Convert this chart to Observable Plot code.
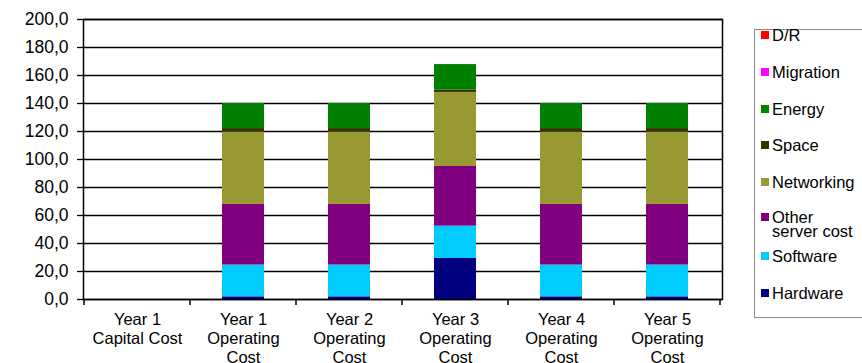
<!DOCTYPE html>
<html><head><meta charset="utf-8">
<script src="https://cdn.jsdelivr.net/npm/d3@7"></script>
<script src="https://cdn.jsdelivr.net/npm/@observablehq/plot@0.6"></script>
<style>
body{margin:0;background:#fff;font-family:"Liberation Sans",Arial,sans-serif;}
#wrap{position:relative;width:862px;height:363px;overflow:hidden;}
#legend{position:absolute;left:754px;top:29px;width:130px;height:289px;border:1px solid #8c8c8c;box-sizing:border-box;background:#fff;}
.item{position:absolute;left:17px;font-size:16.5px;line-height:14px;color:#000;white-space:nowrap;}
.sw{position:absolute;left:6px;width:8px;height:8px;}
</style></head><body><div id="wrap"><div id="legend"></div></div>
<script>
const categories = ["Year 1\nCapital Cost", "Year 1\nOperating\nCost", "Year 2\nOperating\nCost", "Year 3\nOperating\nCost", "Year 4\nOperating\nCost", "Year 5\nOperating\nCost"];
const seriesNames = ["Hardware", "Software", "Other server cost", "Networking", "Space", "Energy", "Migration", "D/R"];
const seriesColors = ["#000080", "#00ccff", "#800080", "#999933", "#333300", "#008000", "#ff00ff", "#ff0000"];
const hardware   = [0, 1.9, 1.9, 29.3, 1.9, 1.9];
const software   = [0, 22.7, 22.7, 23.1, 22.7, 22.7];
const otherServer= [0, 43.3, 43.3, 42.6, 43.3, 43.3];
const networking = [0, 51.8, 51.8, 52.9, 51.8, 51.8];
const space      = [0, 2.4, 2.4, 1.6, 2.4, 2.4];
const energy     = [0, 17.9, 17.9, 18.3, 17.9, 17.9];
const migration  = [0, 0, 0, 0, 0, 0];
const dr         = [0, 0, 0, 0, 0, 0];
const yTicks = [0, 20, 40, 60, 80, 100, 120, 140, 160, 180, 200];
const legendOrder = ["D/R", "Migration", "Energy", "Space", "Networking", "Other server cost", "Software", "Hardware"];
const legendLabels = ["D/R", "Migration", "Energy", "Space", "Networking", "Other<br>server cost", "Software", "Hardware"];

const seriesValues = [hardware, software, otherServer, networking, space, energy, migration, dr];
const table = [];
categories.forEach((c, i) => {
  seriesNames.forEach((s, j) => table.push({category: c, series: s, value: seriesValues[j][i]}));
});

const chart = Plot.plot({
  width: 862, height: 363,
  marginLeft: 83, marginRight: 140, marginTop: 19, marginBottom: 64,
  style: {fontFamily: '"Liberation Sans", Arial, sans-serif', fontSize: "16.5px", color: "#000", background: "#fff"},
  x: {domain: categories, paddingInner: 0.6, paddingOuter: 0.3, label: null},
  y: {domain: [0, 200], label: null},
  color: {domain: seriesNames, range: seriesColors},
  marks: [
    Plot.gridY(yTicks, {stroke: "#000", strokeOpacity: 1, strokeWidth: 1.3}),
    Plot.barY(table, {x: "category", y: "value", fill: "series"}),
    Plot.frame({stroke: "#000", strokeWidth: 1.5}),
    Plot.axisY(yTicks, {tickFormat: d => d.toFixed(1).replace(".", ","), tickSize: 6, tickPadding: 9, stroke: "#000", strokeWidth: 1.3, fontSize: 17.5}),
    Plot.axisX({tickSize: 0, tickPadding: 12, lineHeight: 1.15, fontSize: 16.5})
  ]
});

// category boundary ticks on the bottom axis
const xs = chart.scale("x"), ys = chart.scale("y");
const y0 = ys.apply(0);
const gap = (xs.step - xs.bandwidth) / 2;
const bounds = categories.map(c => xs.apply(c) - gap);
bounds.push(xs.apply(categories[categories.length - 1]) + xs.bandwidth + gap);
d3.select(chart).append("g").selectAll("line").data(bounds).join("line")
  .attr("x1", d => d).attr("x2", d => d).attr("y1", y0).attr("y2", y0 + 6)
  .attr("stroke", "#000").attr("stroke-width", 1.5);

document.getElementById("wrap").prepend(chart);

const legend = document.getElementById("legend");
legendOrder.forEach((name, i) => {
  const color = seriesColors[seriesNames.indexOf(name)];
  const cy = 5 + i * 36.8 - (name === "Other server cost" ? 2 : 0);
  const sw = document.createElement("div");
  sw.className = "sw"; sw.style.background = color; sw.style.top = (cy - 4) + "px";
  const t = document.createElement("div");
  t.className = "item"; t.innerHTML = legendLabels[i]; t.style.top = (cy - 7) + "px";
  legend.append(sw, t);
});
</script></body></html>
